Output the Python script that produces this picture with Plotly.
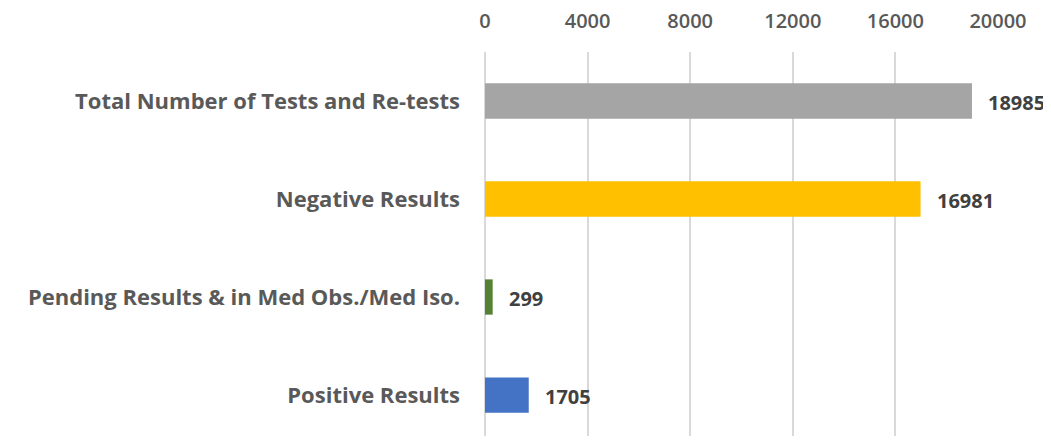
import plotly.graph_objects as go

categories = ["Total Number of Tests and Re-tests", "Negative Results",
              "Pending Results & in Med Obs./Med Iso.", "Positive Results"]
values = [18985, 16981, 299, 1705]
colors = ["#A5A5A5", "#FFC000", "#548235", "#4472C4"]
tick_vals = [0, 4000, 8000, 12000, 16000, 20000]

FONT = "Open Sans, sans-serif"

fig = go.Figure(go.Bar(
    x=values, y=categories, orientation="h",
    marker=dict(color=colors, line=dict(width=0)),
    hoverinfo="skip",
))

for c, v in zip(categories, values):
    fig.add_annotation(x=v, y=c, text=f"<b>{v}</b>", showarrow=False,
                       xanchor="left", xshift=14, yshift=-1,
                       font=dict(family=FONT, size=20, color="#404040"))

fig.update_layout(
    width=1043, height=428,
    margin=dict(l=477, r=53, t=44, b=0),
    paper_bgcolor="white", plot_bgcolor="white",
    bargap=0.64, showlegend=False,
    xaxis=dict(side="top", range=[0, 20000], tickvals=tick_vals, tickformat="d",
               automargin=False,
               showgrid=True, gridcolor="#D9D9D9", gridwidth=2,
               zeroline=True, zerolinecolor="#D9D9D9", zerolinewidth=2,
               showline=False, ticks="", ticklabelstandoff=19,
               tickfont=dict(family="Open Sans SemiBold, Open Sans, sans-serif", size=20, color="#595959")),
    yaxis=dict(range=[3.418, -0.5], showgrid=False, zeroline=False, showline=False,
               automargin=False,
               ticks="", ticklabelstandoff=24,
               tickfont=dict(family=FONT, size=22, color="#595959"),
               tickvals=categories,
               ticktext=[f"<b>{c}</b>" for c in categories]),
)

fig.write_html("out.html")
